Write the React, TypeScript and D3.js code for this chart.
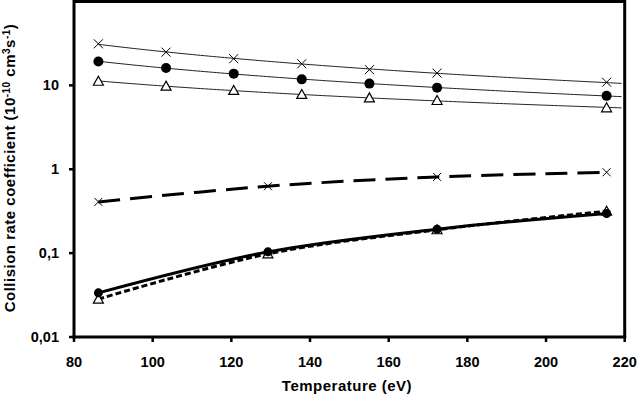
import React from "react";
import * as d3 from "d3";

const W = 638, H = 395;
const M = { left: 74, right: 638 - 624.7, top: 1.5, bottom: 395 - 337 };

// Temperatures (eV)
const tempsA = [86.2, 103.4, 120.6, 137.9, 155.1, 172.3, 215.4];
const tempsB = [86.2, 129.3, 172.3, 215.4];

// Upper series
const crossUpper = [31.3, 24.9, 20.8, 18.1, 15.4, 14.0, 10.9];
const circleUpper = [19.3, 16.1, 13.8, 11.8, 10.5, 9.4, 7.5];
const triUpper = [11.2, 9.8, 8.7, 7.8, 7.1, 6.6, 5.4];

// Lower series
const crossLower = [0.408, 0.628, 0.81, 0.921];
const circleLower = [0.0336, 0.1035, 0.193, 0.297];
const triLower = [0.0283, 0.098, 0.19, 0.316];

const xTicks = [80, 100, 120, 140, 160, 180, 200, 220];
const yTicks = [0.01, 0.1, 1, 10];
const yTickLabels = ["0,01", "0,1", "1", "10"];

const FONT = "'Liberation Sans', Arial, sans-serif";

function powerFit(xs: number[], ys: number[]) {
  const lx = xs.map(Math.log), ly = ys.map(Math.log);
  const n = xs.length;
  const mx = d3.mean(lx)!, my = d3.mean(ly)!;
  let num = 0, den = 0;
  for (let i = 0; i < n; i++) { num += (lx[i] - mx) * (ly[i] - my); den += (lx[i] - mx) ** 2; }
  const b = num / den;
  const a = my - b * mx;
  return (x: number) => Math.exp(a + b * Math.log(x));
}

export default function App() {
  const x = d3.scaleLinear().domain([80, 220]).range([M.left, W - M.right]);
  const y = d3.scaleLog().domain([0.01, 100]).range([H - M.bottom, M.top]);

  const fitLine = (vals: number[]) => {
    const f = powerFit(tempsA, vals);
    const xs = d3.range(tempsA[0], 220.01, 1);
    return d3.line<number>().x((t) => x(t)).y((t) => y(f(t)))(xs) || "";
  };

  const smooth = (xs: number[], vals: number[]) =>
    d3.line<number>().x((_, i) => x(xs[i])).y((v) => y(v)).curve(d3.curveCatmullRom.alpha(0.5))(vals) || "";

  const cross = (cx: number, cy: number, s: number, key: string) => (
    <path key={key} d={`M${cx - s},${cy - s}L${cx + s},${cy + s}M${cx - s},${cy + s}L${cx + s},${cy - s}`} stroke="#000" strokeWidth={1} fill="none" />
  );
  const tri = (cx: number, cy: number, key: string) => (
    <path key={key} d={`M${cx},${cy - 5}L${cx + 5},${cy + 4}L${cx - 5},${cy + 4}Z`} stroke="#000" strokeWidth={1.2} fill="#fff" />
  );

  return (
    <svg width={W} height={H} style={{ position: "absolute", left: 0, top: 0, background: "#fff" }} fontFamily={FONT}>
      <rect width={W} height={H} fill="#fff" />
      {/* Upper series lines */}
      {[crossUpper, circleUpper, triUpper].map((vals, i) => (
        <path key={"fl" + i} d={fitLine(vals)} stroke="#222" strokeWidth={1} fill="none" />
      ))}
      {/* Upper markers */}
      {tempsA.map((t, i) => cross(x(t), y(crossUpper[i]), 4.5, "cu" + i))}
      {tempsA.map((t, i) => (
        <circle key={"ou" + i} cx={x(t)} cy={y(circleUpper[i])} r={5} fill="#000" />
      ))}
      {tempsA.map((t, i) => tri(x(t), y(triUpper[i]), "tu" + i))}

      {/* Lower series */}
      <path d={smooth(tempsB, crossLower)} stroke="#000" strokeWidth={3} fill="none" strokeDasharray="22,10" />
      <path d={smooth(tempsB, circleLower)} stroke="#000" strokeWidth={3} fill="none" />
      <path d={smooth(tempsB, triLower)} stroke="#000" strokeWidth={3} fill="none" strokeDasharray="6,3" />
      {tempsB.map((t, i) => cross(x(t), y(crossLower[i]), 4, "cl" + i))}
      {tempsB.map((t, i) => tri(x(t), y(triLower[i]), "tl" + i))}
      {tempsB.map((t, i) => (
        <circle key={"ol" + i} cx={x(t)} cy={y(circleLower[i])} r={4.5} fill="#000" />
      ))}

      {/* Frame */}
      <line x1={x(80)} x2={x(220)} y1={y(100)} y2={y(100)} stroke="#000" strokeWidth={3} />
      <line x1={x(220)} x2={x(220)} y1={y(100) - 1.5} y2={y(0.01)} stroke="#000" strokeWidth={3} />
      <line x1={x(80)} x2={x(80)} y1={y(100) - 1.5} y2={y(0.01) + 1.5} stroke="#000" strokeWidth={3} />
      <line x1={x(80) - 1.5} x2={x(220) + 1.5} y1={y(0.01)} y2={y(0.01)} stroke="#000" strokeWidth={3} />

      {/* X ticks */}
      {xTicks.map((t) => (
        <g key={"xt" + t}>
          <line x1={x(t)} x2={x(t)} y1={y(0.01)} y2={y(0.01) + 5} stroke="#000" strokeWidth={2.5} />
          <text x={x(t)} y={367} textAnchor="middle" fontSize={14.5} fontWeight="bold" fill="#000">{t}</text>
        </g>
      ))}
      {/* Y ticks */}
      {yTicks.map((t, i) => (
        <g key={"yt" + t}>
          <line x1={x(80) - 5} x2={x(80)} y1={y(t)} y2={y(t)} stroke="#000" strokeWidth={2.5} />
          <text x={59} y={y(t) + 5} textAnchor="end" fontSize={14.5} fontWeight="bold" fill="#000">{yTickLabels[i]}</text>
        </g>
      ))}

      <text x={347} y={391} textAnchor="middle" fontSize={15} letterSpacing={0.5} fontWeight="bold" fill="#000">Temperature (eV)</text>
      <text transform={`translate(15,168) rotate(-90)`} textAnchor="middle" fontSize={15} letterSpacing={0.5} fontWeight="bold" fill="#000">
        Collision rate coefficient (10<tspan fontSize={10} dy={-5}>-10</tspan><tspan dy={5}> cm</tspan><tspan fontSize={10} dy={-5}>3</tspan><tspan dy={5}>s</tspan><tspan fontSize={10} dy={-5}>-1</tspan><tspan dy={5}>)</tspan>
      </text>
    </svg>
  );
}
